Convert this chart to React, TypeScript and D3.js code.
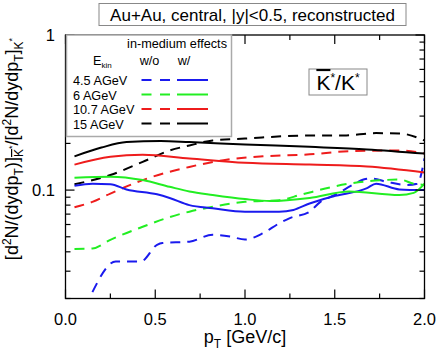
import React from "react";
import * as d3 from "d3";

const pt15w = [0.05, 0.2, 0.34, 0.53, 0.69, 1.0, 1.36, 1.68, 2.0];
const val15w = [0.165, 0.188, 0.204, 0.207, 0.204, 0.197, 0.19, 0.183, 0.172];
const pt15wo = [0.05, 0.25, 0.43, 0.58, 0.69, 0.82, 1.0, 1.36, 1.55, 1.73, 1.86, 2.0];
const val15wo = [0.109, 0.125, 0.152, 0.18, 0.194, 0.209, 0.215, 0.225, 0.225, 0.233, 0.232, 0.209];

const pt107w = [0.05, 0.25, 0.43, 0.69, 1.0, 1.36, 1.68, 2.0];
const val107w = [0.146, 0.164, 0.169, 0.16, 0.15, 0.146, 0.142, 0.13];
const pt107wo = [0.05, 0.15, 0.25, 0.43, 0.69, 0.88, 1.1, 1.36, 1.58, 1.86, 2.0];
const val107wo = [0.0775, 0.084, 0.095, 0.116, 0.141, 0.156, 0.165, 0.17, 0.178, 0.18, 0.172];

const pt6w = [0.05, 0.25, 0.43, 0.58, 0.69, 0.82, 1.0, 1.14, 1.36, 1.58, 1.86, 1.94, 2.0];
const val6w = [0.12, 0.122, 0.116, 0.105, 0.098, 0.093, 0.0875, 0.085, 0.089, 0.098, 0.093, 0.096, 0.11];
const pt6wo = [0.05, 0.15, 0.25, 0.43, 0.58, 0.69, 0.82, 1.0, 1.19, 1.32, 1.58, 1.77, 1.86, 1.94, 2.0];
const val6wo = [0.0417, 0.042, 0.0478, 0.058, 0.067, 0.0726, 0.078, 0.084, 0.086, 0.094, 0.11, 0.116, 0.117, 0.11, 0.108];

const pt45w = [0.05, 0.15, 0.25, 0.34, 0.51, 0.58, 0.69, 0.82, 1.0, 1.19, 1.27, 1.36, 1.49, 1.68, 1.73, 1.86, 2.0];
const val45w = [0.1066, 0.11, 0.109, 0.101, 0.094, 0.089, 0.08, 0.0764, 0.0726, 0.0726, 0.0745, 0.082, 0.091, 0.103, 0.11, 0.101, 0.1];
const pt45wo = [0.15, 0.28, 0.42, 0.51, 0.54, 0.69, 0.82, 0.92, 1.0, 1.1, 1.19, 1.25, 1.36, 1.42, 1.5, 1.6, 1.66, 1.7, 1.79, 1.9, 1.96, 2.0];
const val45wo = [0.022, 0.0347, 0.0347, 0.0444, 0.0456, 0.0465, 0.0515, 0.0501, 0.048, 0.0527, 0.061, 0.066, 0.0726, 0.084, 0.093, 0.108, 0.117, 0.119, 0.113, 0.108, 0.11, 0.16];

const energies = ["4.5 AGeV", "6 AGeV", "10.7 AGeV", "15 AGeV"];
const colors = ["#1a1aee", "#22ee22", "#ee1c1c", "#000000"];
const seriesW = [
  [pt45w, val45w],
  [pt6w, val6w],
  [pt107w, val107w],
  [pt15w, val15w],
];
const seriesWo = [
  [pt45wo, val45wo],
  [pt6wo, val6wo],
  [pt107wo, val107wo],
  [pt15wo, val15wo],
];

const xTicksMajor = [0, 0.5, 1.0, 1.5, 2.0];
const xTickLabels = ["0.0", "0.5", "1.0", "1.5", "2.0"];
const xTicksMinor = [0.25, 0.75, 1.25, 1.75];
const yTicksMajor = [0.1, 1];
const yTickLabels = ["0.1", "1"];
const yTicksMinor = [0.02, 0.03, 0.04, 0.05, 0.06, 0.07, 0.08, 0.09, 0.2, 0.3, 0.4, 0.5, 0.6, 0.7, 0.8, 0.9];

const L = 65.5, R = 424.5, T = 35, B = 298.5;
const FONT = "'Liberation Sans', Arial, sans-serif";

export default function App() {
  const x = d3.scaleLinear().domain([0, 2]).range([L, R]);
  const y = d3.scaleLog().domain([0.02, 1]).range([B, T]);
  const line = d3
    .line<[number, number]>()
    .x((d) => x(d[0]))
    .y((d) => y(d[1]))
    .curve(d3.curveMonotoneX);
  const mk = (s: number[][]) => line(s[0].map((p, i) => [p, s[1][i]] as [number, number])) || "";

  const MAJ = 9, MIN = 5;
  const legRows = [85, 99.5, 114, 128.5];

  return (
    <svg
      width={436}
      height={355}
      style={{ position: "absolute", left: 0, top: 0, background: "#fff" }}
      fontFamily={FONT}
    >
      <defs>
        <clipPath id="plotclip">
          <rect x={L} y={T} width={R - L} height={B - T} />
        </clipPath>
      </defs>
      {/* curves */}
      <g clipPath="url(#plotclip)" fill="none" strokeWidth={2}>
        {seriesWo.map((s, i) => (
          <path key={"wo" + i} d={mk(s)} stroke={colors[i]} strokeDasharray="10,7" />
        ))}
        {seriesW.map((s, i) => (
          <path key={"w" + i} d={mk(s)} stroke={colors[i]} />
        ))}
      </g>
      {/* frame */}
      <rect x={L} y={T} width={R - L} height={B - T} fill="none" stroke="#000" strokeWidth={1.3} />
      {/* x ticks */}
      <g stroke="#000" strokeWidth={1.2}>
        {xTicksMajor.map((t) => (
          <g key={"xm" + t}>
            <line x1={x(t)} x2={x(t)} y1={B} y2={B - MAJ} />
            <line x1={x(t)} x2={x(t)} y1={T} y2={T + MAJ} />
          </g>
        ))}
        {xTicksMinor.map((t) => (
          <g key={"xn" + t}>
            <line x1={x(t)} x2={x(t)} y1={B} y2={B - MIN} />
            <line x1={x(t)} x2={x(t)} y1={T} y2={T + MIN} />
          </g>
        ))}
        {yTicksMajor.map((t) => (
          <g key={"ym" + t}>
            <line x1={L} x2={L + MAJ} y1={y(t)} y2={y(t)} />
            <line x1={R} x2={R - MAJ} y1={y(t)} y2={y(t)} />
          </g>
        ))}
        {yTicksMinor.map((t) => (
          <g key={"yn" + t}>
            <line x1={L} x2={L + MIN} y1={y(t)} y2={y(t)} />
            <line x1={R} x2={R - MIN} y1={y(t)} y2={y(t)} />
          </g>
        ))}
      </g>
      {/* tick labels */}
      <g fontSize={16.5} fill="#000">
        {xTicksMajor.map((t, i) => (
          <text key={"xl" + t} x={x(t)} y={325} textAnchor="middle">
            {xTickLabels[i]}
          </text>
        ))}
        {yTicksMajor.map((t, i) => (
          <text key={"yl" + t} x={55} y={y(t) + 6} textAnchor="end">
            {yTickLabels[i]}
          </text>
        ))}
      </g>
      {/* x label */}
      <text x={245} y={343} fontSize={18} textAnchor="middle">
        p<tspan dy={5} fontSize={12}>T</tspan>
        <tspan dy={-5}> [GeV/c]</tspan>
      </text>
      {/* y label */}
      <text transform="translate(18,149) rotate(-90)" fontSize={18} textAnchor="middle">
        [d<tspan dy={-7} fontSize={12}>2</tspan>
        <tspan dy={7}>N/(dydp</tspan>
        <tspan dy={5} fontSize={12}>T</tspan>
        <tspan dy={-5}>)]</tspan>
        <tspan dy={5} fontSize={12} style={{ textDecoration: "overline" }}>K</tspan>
        <tspan dy={-8} fontSize={9}>*</tspan>
        <tspan dy={3}>/[d</tspan>
        <tspan dy={-7} fontSize={12}>2</tspan>
        <tspan dy={7}>N/dydp</tspan>
        <tspan dy={5} fontSize={12}>T</tspan>
        <tspan dy={-5}>]</tspan>
        <tspan dy={5} fontSize={12}>K</tspan>
        <tspan dy={-8} fontSize={9}>*</tspan>
      </text>
      {/* title box */}
      <rect x={99} y={3.5} width={307} height={22} fill="#fff" stroke="#888" strokeWidth={1} />
      <text x={252.5} y={20.5} fontSize={17} textAnchor="middle">
        Au+Au, central, |y|&lt;0.5, reconstructed
      </text>
      {/* ratio label box */}
      <rect x={309} y={69} width={58} height={26} fill="#fff" stroke="#888" strokeWidth={1} />
      <text x={338} y={90} fontSize={21} textAnchor="middle">
        <tspan style={{ textDecoration: "overline" }}>K</tspan>
        <tspan dy={-8} fontSize={12}>*</tspan>
        <tspan dy={8}>/K</tspan>
        <tspan dy={-8} fontSize={12}>*</tspan>
      </text>
      {/* legend */}
      <rect x={66.5} y={35} width={165} height={101.5} fill="#fff" stroke="#aaa" strokeWidth={1.5} />
      <g fontSize={12.7} fill="#000">
        <text x={227} y={48} textAnchor="end">in-medium effects</text>
        <text x={93} y={65}>
          E<tspan dy={3} fontSize={8}>kin</tspan>
        </text>
        <text x={149.5} y={65} textAnchor="middle">w/o</text>
        <text x={184} y={65} textAnchor="middle">w/</text>
        {energies.map((e, i) => (
          <text key={e} x={73} y={legRows[i]}>
            {e}
          </text>
        ))}
      </g>
      <g strokeWidth={2} fill="none">
        {energies.map((e, i) => (
          <g key={"ll" + e}>
            <line x1={141.5} x2={170} y1={legRows[i] - 5} y2={legRows[i] - 5} stroke={colors[i]} strokeDasharray="10,8.5" />
            <line x1={177} x2={208} y1={legRows[i] - 5} y2={legRows[i] - 5} stroke={colors[i]} />
          </g>
        ))}
      </g>
    </svg>
  );
}
